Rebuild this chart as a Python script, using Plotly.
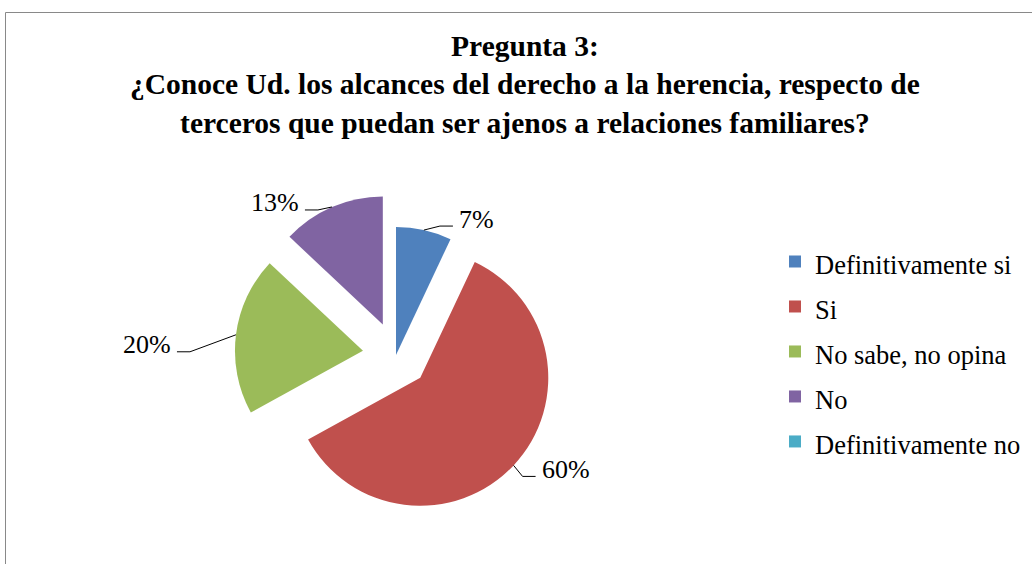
import math
import plotly.graph_objects as go

# ---- data ----
categories = ["Definitivamente si", "Si", "No sabe, no opina", "No", "Definitivamente no"]
values = [7, 60, 20, 13, 0]
colors = ["#4F81BD", "#C0504D", "#9BBB59", "#8064A2", "#4BACC6"]
pulls = [0.0, 0.26, 0.26, 0.26, 0.0]
title_lines = ["Pregunta 3:",
               "¿Conoce Ud. los alcances del derecho a la herencia, respecto de",
               "terceros que puedan ser ajenos a relaciones familiares?"]

# ---- layout / style settings (pixels) ----
W, H = 1032, 564
PIE_CX, PIE_CY = 396.0, 355.0      # pie centre (px from top-left)
PIE_BOX = 322.6                     # square domain size in px
# offset of the leader-line end (near text) from the slice edge point, per slice
LABEL_OFFSETS = [(29, -4), (22, 11), (-59, 17), (-27, 3), None]
SERIF = "Liberation Serif, Times New Roman, serif"

dom_x = [(PIE_CX - PIE_BOX / 2) / W, (PIE_CX + PIE_BOX / 2) / W]
dom_y = [1 - (PIE_CY + PIE_BOX / 2) / H, 1 - (PIE_CY - PIE_BOX / 2) / H]
R = (PIE_BOX / 2) / (1 + max(pulls))

legend_labels = ['<span style="font-size:26.5px">%s</span>' % c for c in categories]

fig = go.Figure()
fig.add_trace(go.Pie(
    labels=legend_labels,
    values=values,
    sort=False,
    direction="clockwise",
    rotation=0,
    pull=pulls,
    marker=dict(colors=colors, line=dict(width=0)),
    textinfo="none",
    hoverinfo="skip",
    domain=dict(x=dom_x, y=dom_y),
))

def px2paper(x, y):
    return x / W, 1 - y / H

total = float(sum(values))
cum = 0.0
shapes = []
annotations = []
for v, p, off in zip(values, pulls, LABEL_OFFSETS):
    frac_mid = (cum + v / 2.0) / total
    cum += v
    if v <= 0 or off is None:
        continue
    th = 2 * math.pi * frac_mid
    dx, dy = math.sin(th), -math.cos(th)
    ccx = PIE_CX + p * R * dx
    ccy = PIE_CY + p * R * dy
    px, py = ccx + R * dx, ccy + R * dy          # edge point of slice
    ex, ey = px + off[0], py + off[1]            # leader end near text
    right = off[0] > 0
    elx = ex - 13 if right else ex + 13
    pts = [px2paper(px, py), px2paper(elx, ey), px2paper(ex, ey)]
    path = "M%.5f,%.5f L%.5f,%.5f L%.5f,%.5f" % (pts[0][0], pts[0][1], pts[1][0], pts[1][1], pts[2][0], pts[2][1])
    shapes.append(dict(type="path", xref="paper", yref="paper", path=path,
                       line=dict(color="black", width=1)))
    tx, ty = px2paper(ex + 4 if right else ex - 4, ey - 7)
    annotations.append(dict(
        x=tx, y=ty, xref="paper", yref="paper",
        text="%d%%" % round(v / total * 100),
        showarrow=False, xanchor="left" if right else "right", yanchor="middle",
        font=dict(family=SERIF, size=26, color="black")))

# title
tx, ty = px2paper(525, 84.5)
annotations.append(dict(
    x=tx, y=ty, xref="paper", yref="paper",
    text="<b>" + "<br>".join(title_lines) + "</b>",
    showarrow=False, xanchor="center", yanchor="middle", align="center",
    font=dict(family=SERIF, size=29.5, color="black")))

# chart frame (only top and left edges fall inside the view)
fx, fy = px2paper(5.5, 12.5)
shapes.append(dict(type="rect", xref="paper", yref="paper",
                   x0=fx, y0=-0.05, x1=1.05, y1=fy,
                   line=dict(color="#898989", width=1), layer="below"))

fig.update_layout(
    width=W, height=H,
    margin=dict(l=0, r=0, t=0, b=0),
    paper_bgcolor="white", plot_bgcolor="white",
    showlegend=True,
    legend=dict(x=(815 - 40) / W, y=1 - 234 / H, xanchor="left", yanchor="top",
                font=dict(family=SERIF, size=32.3, color="black"),
                bgcolor="rgba(0,0,0,0)", borderwidth=0),
    shapes=shapes,
    annotations=annotations,
)

fig.write_html("out.html", config={"displayModeBar": False},
               post_script="document.body.style.margin='0';document.body.style.overflow='hidden';")
